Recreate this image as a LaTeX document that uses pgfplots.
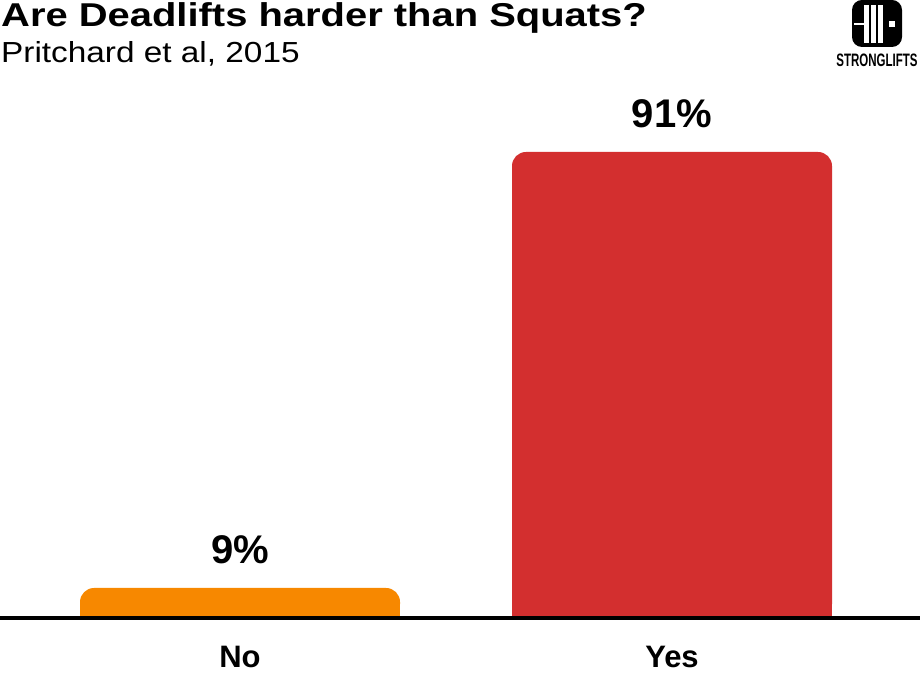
\documentclass[border=0pt]{standalone}
\usepackage{fontspec}
\setmainfont{Liberation Sans}
\newfontfamily\titlefont[FakeStretch=1.21]{Liberation Sans}
\newfontfamily\subfont[FakeStretch=1.15]{Liberation Sans}
\usepackage{pgfplots}
\pgfplotsset{compat=1.18}
\definecolor{slorange}{HTML}{F78800}
\definecolor{slred}{HTML}{D32F2F}
\begin{document}
\begin{tikzpicture}[x=1bp,y=1bp]
\useasboundingbox (0,-58) rectangle (920,618);
\begin{axis}[
    at={(0,0)}, anchor=south west,
    scale only axis, width=920bp, height=538bp,
    xmin=-0.5556, xmax=1.5741,
    ymin=3.358, ymax=104.54,
    axis x line*=bottom, axis y line=none,
    axis line style={line width=4bp, -},
    axis on top,
    xtick={0,1}, xticklabels={No,Yes},
    major tick length=0pt,
    ytick=\empty,
    xticklabel style={font=\fontsize{31bp}{36bp}\selectfont\bfseries, anchor=base, yshift=-49bp},
    clip mode=individual,
]
% rounded bars (values)
\addplot[ybar, bar width=320bp, fill=slorange, draw=none, rounded corners=14bp,
    nodes near coords={\pgfmathprintnumber{\pgfplotspointmeta}\%},
    nodes near coords style={font=\fontsize{40bp}{46bp}\selectfont\bfseries, anchor=base, yshift=24bp, /pgf/number format/assume math mode=true}]
    coordinates {(0,9)};
\addplot[ybar, bar width=320bp, fill=slred, draw=none, rounded corners=14bp,
    nodes near coords={\pgfmathprintnumber{\pgfplotspointmeta}\%},
    nodes near coords style={font=\fontsize{40bp}{46bp}\selectfont\bfseries, anchor=base, yshift=24bp, /pgf/number format/assume math mode=true}]
    coordinates {(1,91)};
% square off the feet of the bars
\addplot[ybar, bar width=320bp, fill=slorange, draw=none] coordinates {(0,6)};
\addplot[ybar, bar width=320bp, fill=slred, draw=none] coordinates {(1,50)};
\end{axis}
% title block
\node[anchor=base west, inner sep=0, font=\fontsize{33bp}{38bp}\selectfont\titlefont\bfseries] at (1,591) {Are Deadlifts harder than Squats?};
\node[anchor=base west, inner sep=0, font=\fontsize{29bp}{34bp}\selectfont\subfont] at (1,555) {Pritchard et al, 2015};
% logo
\fill[black, rounded corners=10] (852,571) rectangle (902,618);
\fill[white] (854,593) rectangle (864,595);
\fill[white] (864,575) rectangle (869,613);
\fill[white] (871,575) rectangle (876,613);
\fill[white] (878,575) rectangle (883,613);
\fill[white] (889,591) rectangle (895,597);
\node[anchor=base, inner sep=0, font=\fontsize{18bp}{20bp}\selectfont\bfseries, xscale=0.64, transform shape] at (877,551) {STRONGLIFTS};
\end{tikzpicture}
\end{document}
